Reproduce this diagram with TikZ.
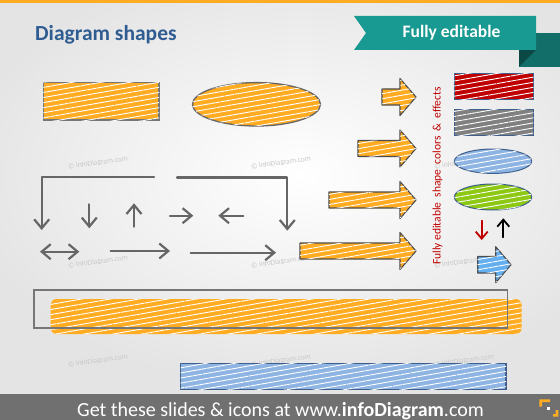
\documentclass[tikz,border=0pt]{standalone}
\usepackage{fontspec}
\setmainfont{Carlito}
\usepackage{xcolor}
\usepackage{tikz}
\usetikzlibrary{arrows.meta, patterns.meta, positioning}

\definecolor{bgcol}{RGB}{228,228,228}
\definecolor{orangefill}{RGB}{255,172,35}
\definecolor{titleblue}{RGB}{47,92,145}
\definecolor{tealmain}{RGB}{24,153,145}
\definecolor{tealdark}{RGB}{18,110,104}
\definecolor{tealfold}{RGB}{12,72,70}
\definecolor{sketchgray}{RGB}{102,102,102}
\definecolor{outlinegray}{RGB}{118,118,118}
\definecolor{edgeblue}{RGB}{62,95,140}
\definecolor{darkred}{RGB}{192,0,0}
\definecolor{midgray}{RGB}{128,128,128}
\definecolor{lightblue}{RGB}{141,180,226}
\definecolor{limegreen}{RGB}{140,200,20}
\definecolor{skyblue}{RGB}{100,175,240}
\definecolor{footgray}{RGB}{112,112,112}
\definecolor{wmgray}{RGB}{200,200,200}

\tikzset{
  scribble/.style={fill=#1, postaction={pattern={Lines[angle=10,distance=5pt,line width=0.9pt]}, pattern color=white}},
  sketch/.style={draw=sketchgray, line width=2.2pt, line cap=round, line join=round, >={Straight Barb[length=9pt,width=15pt]}, ->},
  smallarrow/.style={line width=1.8pt, line cap=round, >={Straight Barb[length=7pt,width=12pt]}, ->},
  blockedge/.style={draw=black!70, line width=1.1pt, line join=round},
}

\begin{document}
\begin{tikzpicture}[x=1pt, y=-1pt]
    \useasboundingbox (0,0) rectangle (560,420);

    % Nen xam voi vung sang o giua
    \fill[bgcol] (0,0) rectangle (560,420);
    \shade[inner color=white, outer color=bgcol] (300,175) ellipse [x radius=340, y radius=215];

    % Thanh cam tren cung va dai chan trang
    \fill[orangefill] (0,0) rectangle (560,3);
    \fill[footgray] (0,394) rectangle (560,420);

    % Chu chim (watermark)
    \foreach \wx in {98,281,464}
        \foreach \wy in {163,262,361}
            \node[text=wmgray, font=\fontsize{7.5}{9}\selectfont, rotate=8] at (\wx,\wy) {© infoDiagram.com};

    % Tieu de
    \node[anchor=base west, inner sep=0, text=titleblue, font=\fontsize{21.5}{24}\selectfont\bfseries] (title) at (35,40.7) {Diagram shapes};

    % Dai ruy bang "Fully editable"
    \fill[tealdark] (519,32.7) rectangle (560,66.7);
    \fill[tealfold] (519,50) -- (536,50) -- (519,66.7) -- cycle;
    \fill[tealmain] (354,16) -- (536,16) -- (536,50) -- (354,50) -- (366,33) -- cycle;
    \node[anchor=base, inner sep=0, text=white, font=\fontsize{17.5}{20}\selectfont\bfseries] (ribbontext) at (451.5,37.7) {Fully editable};

    % Hinh chu nhat va elip cam
    \draw[draw=outlinegray, line width=1.3pt, scribble=orangefill] (43.3,82.7) rectangle (159,120);
    \draw[draw=sketchgray, line width=1.3pt, scribble=orangefill] (256.5,104.3) ellipse [x radius=64, y radius=21.7];

    % Cac diem cua khung mui ten ben trai
    \coordinate (L1) at (154,177.3);
    \coordinate (L2) at (41.7,177.3);
    \coordinate (L3) at (41.7,230);
    \coordinate (R1) at (177,177.5);
    \coordinate (R2) at (287.3,177.5);
    \coordinate (R3) at (287.3,230.7);

    % Khung hai nhanh co mui ten xuong
    \draw[sketch] (L1) -- (L2) -- (L3);
    \draw[sketch] (R1) -- (R2) -- (R3);

    % Mui ten nho
    \draw[sketch] (89.3,204.3) -- (89.3,228.3);
    \draw[sketch] (134,226.7) -- (134,203.3);
    \draw[sketch] (170,215.7) -- (193.3,215.7);
    \draw[sketch] (243.3,215.7) -- (218.3,215.7);

    % Mui ten hai dau va mui ten dai
    \draw[sketch, <->] (40,251.7) -- (79.3,251.7);
    \draw[sketch] (110.7,251) -- (170,251);
    \draw[sketch] (190.7,252.7) -- (276,252.7);

    % Mui ten khoi mau cam
    \foreach \xs/\yc in {382/97, 358/148.5, 329/200, 300/251}
        \draw[blockedge, scribble=orangefill] (\xs,\yc-8) -- (400,\yc-8) -- (400,\yc-18.5) -- (416,\yc)
            -- (400,\yc+18.5) -- (400,\yc+8) -- (\xs,\yc+8) -- cycle;

    % Chu doc mau do
    \node[anchor=base west, inner sep=0, rotate=90, text=darkred, font=\fontsize{11.5}{13}\selectfont] (sidetext) at (440.5,265) {Fully editable\ \ shape\ \ colors\ \ \&\ \ effects};

    % Cac hinh mau
    \draw[draw=edgeblue, line width=1pt, scribble=darkred] (454,74) rectangle (533.3,99.3);
    \draw[draw=edgeblue, line width=1pt, scribble=midgray] (454,109.3) rectangle (533.3,135);
    \draw[draw=edgeblue, line width=1pt, scribble=lightblue] (493,161.2) ellipse [x radius=38.7, y radius=12.2];
    \draw[draw=edgeblue, line width=1pt, scribble=limegreen] (493,197) ellipse [x radius=38.7, y radius=13];

    % Mui ten do va den
    \draw[smallarrow, darkred] (481.7,220.7) -- (481.7,240);
    \draw[smallarrow, black] (503.3,237.3) -- (503.3,218.3);

    % Mui ten khoi xanh
    \draw[blockedge, scribble=skyblue] (477.7,256.5) -- (495.7,256.5) -- (495.7,246.7) -- (511,264.7)
        -- (495.7,282.7) -- (495.7,273) -- (477.7,273) -- cycle;

    % Thanh cam dai phia duoi
    \fill[rounded corners=6pt, scribble=orangefill] (50.7,299) rectangle (521.7,334);
    \draw[outlinegray, line width=1.5pt] (34,290) rectangle (507.7,328);

    % Thanh xanh phia duoi
    \draw[draw=edgeblue, line width=1.3pt, scribble=lightblue] (180.7,363.3) rectangle (506,389.3);

    % Dong chu chan trang
    \node[anchor=base, inner sep=0, text=white, font=\fontsize{20}{24}\selectfont] (footer) at (280.5,416.5) {Get these slides \& icons at www.\textbf{infoDiagram}.com};

    % Bieu tuong goc phai duoi
    \fill[orangefill] (539.3,399.3) rectangle (550,402) (539.3,399.3) rectangle (542,406.7);
    \fill[orangefill] (555.6,410) rectangle (558.3,416.7) (553,414) rectangle (558.3,416.7);
    \fill[white] (546.7,406.7) rectangle (550,410);

\end{tikzpicture}
\end{document}
